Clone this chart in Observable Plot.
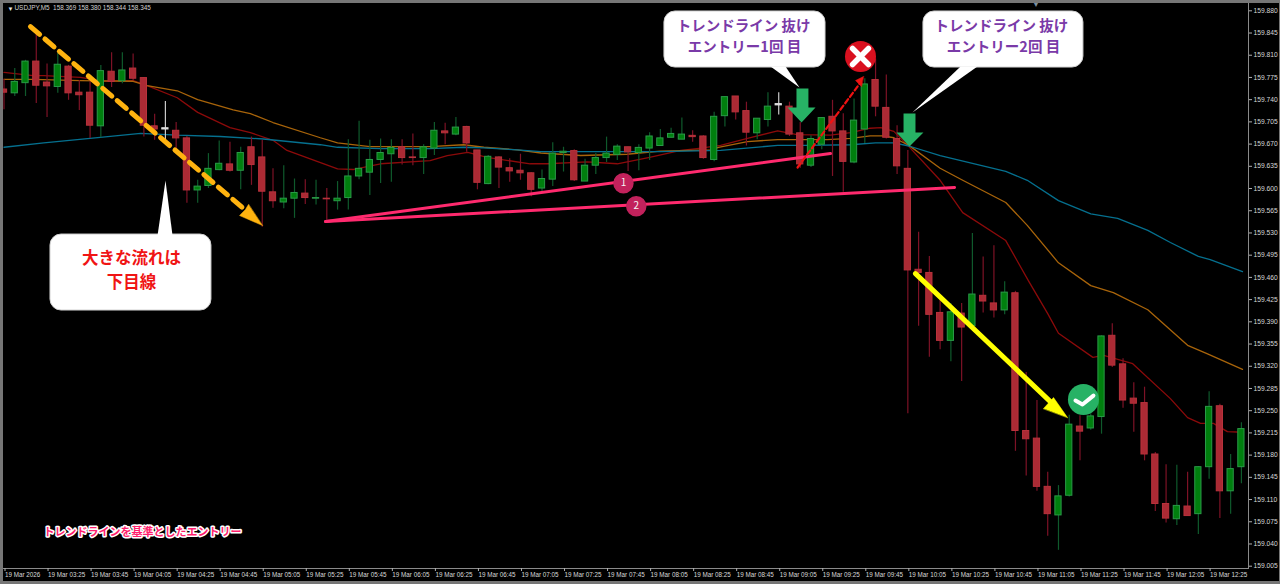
<!DOCTYPE html>
<html lang="ja">
<head>
<meta charset="utf-8">
<style>
html,body{margin:0;padding:0;background:#000;overflow:hidden}
svg{display:block}
</style>
<script src="https://cdn.jsdelivr.net/npm/d3@7"></script>
<script src="https://cdn.jsdelivr.net/npm/@observablehq/plot@0.6"></script>
</head>
<body>
<div id="chart"></div>
<script>
// r = bearish, g = bullish, w = doji (one value per M5 bar, 03:05 to 12:40)
const barKinds = "rggrrgrrrgrgrrrwrrgggrgrrrggrgrggggggrrggrgrrgrrrrgggrggggrgggggrrggrrggwrrggrrggrrrrrrrgrgrrgrrrrggrggrrrrrrgrggrgg";
const highs = [159.772,159.789,159.802,159.844,159.796,159.813,159.794,159.770,159.778,159.794,159.814,159.814,159.812,159.775,159.717,159.737,159.704,159.682,159.613,159.655,159.675,159.673,159.665,159.681,159.676,159.631,159.636,159.615,159.614,159.613,159.600,159.611,159.677,159.706,159.676,159.678,159.677,159.677,159.686,159.669,159.704,159.703,159.712,159.698,159.660,159.652,159.650,159.647,159.654,159.625,159.629,159.672,159.665,159.661,159.646,159.655,159.681,159.669,159.665,159.669,159.688,159.693,159.695,159.711,159.691,159.683,159.720,159.745,159.745,159.736,159.710,159.751,159.751,159.736,159.704,159.683,159.712,159.739,159.718,159.741,159.773,159.804,159.779,159.699,159.660,159.531,159.493,159.424,159.419,159.419,159.529,159.492,159.510,159.453,159.438,159.310,159.266,159.153,159.132,159.243,159.242,159.245,159.368,159.387,159.332,159.294,159.287,159.184,159.165,159.164,159.153,159.162,159.280,159.260,159.181,159.231];
const bodyTops = [159.756,159.768,159.800,159.800,159.767,159.795,159.792,159.751,159.751,159.785,159.784,159.786,159.789,159.774,159.698,159.695,159.691,159.679,159.603,159.631,159.639,159.638,159.656,159.665,159.649,159.594,159.584,159.593,159.592,159.585,159.584,159.584,159.619,159.631,159.645,159.656,159.664,159.665,159.649,159.665,159.691,159.690,159.696,159.697,159.660,159.650,159.649,159.632,159.628,159.624,159.615,159.655,159.658,159.659,159.636,159.648,159.655,159.666,159.665,159.664,159.682,159.679,159.686,159.685,159.683,159.682,159.713,159.744,159.745,159.722,159.710,159.729,159.733,159.729,159.687,159.678,159.711,159.713,159.690,159.707,159.764,159.771,159.727,159.678,159.631,159.472,159.467,159.404,159.405,159.403,159.433,159.431,159.419,159.436,159.435,159.218,159.206,159.130,159.115,159.228,159.225,159.241,159.367,159.368,159.323,159.269,159.262,159.181,159.103,159.100,159.099,159.161,159.256,159.257,159.158,159.221];
const bodyBottoms = [159.751,159.750,159.766,159.762,159.761,159.760,159.750,159.747,159.699,159.698,159.768,159.769,159.773,159.699,159.693,159.693,159.679,159.597,159.597,159.604,159.629,159.628,159.628,159.637,159.595,159.580,159.578,159.584,159.585,159.584,159.583,159.580,159.585,159.619,159.625,159.645,159.654,159.648,159.648,159.648,159.663,159.687,159.685,159.671,159.609,159.607,159.633,159.627,159.624,159.598,159.600,159.614,159.656,159.613,159.611,159.636,159.648,159.653,159.657,159.656,159.663,159.667,159.680,159.677,159.681,159.648,159.645,159.714,159.720,159.688,159.687,159.708,159.731,159.685,159.638,159.636,159.669,159.690,159.642,159.641,159.693,159.729,159.680,159.635,159.471,159.467,159.401,159.360,159.360,159.381,159.383,159.422,159.408,159.408,159.218,159.205,159.130,159.087,159.085,159.116,159.217,159.222,159.240,159.321,159.266,159.261,159.181,159.103,159.080,159.079,159.084,159.087,159.161,159.123,159.123,159.161];
const lows = [159.724,159.745,159.745,159.734,159.712,159.750,159.739,159.723,159.679,159.680,159.759,159.765,159.770,159.681,159.676,159.672,159.663,159.577,159.577,159.600,159.628,159.626,159.598,159.605,159.539,159.569,159.568,159.553,159.575,159.574,159.550,159.566,159.566,159.614,159.589,159.608,159.610,159.637,159.636,159.622,159.652,159.669,159.683,159.657,159.598,159.606,159.600,159.610,159.613,159.587,159.594,159.603,159.626,159.611,159.611,159.622,159.641,159.644,159.627,159.628,159.644,159.667,159.680,159.677,159.673,159.646,159.642,159.697,159.708,159.667,159.677,159.697,159.716,159.682,159.632,159.633,159.661,159.619,159.594,159.639,159.671,159.713,159.678,159.622,159.245,159.383,159.334,159.346,159.327,159.296,159.376,159.404,159.396,159.401,159.186,159.147,159.123,159.052,159.030,159.114,159.171,159.219,159.213,159.318,159.254,159.216,159.171,159.091,159.073,159.069,159.084,159.055,159.142,159.080,159.087,159.135];

const blueBars = [0,3.7,8,12.7,16.1,20.1,24.1,29.4,31,35,39.6,42.7,44.6,47.7,49.9,53.6,61,66.6,71.9,74.7,78.7,81,82.7,84.1,87,93.1,95.1,98,101,103.5,106.3,108.4,111,112.1,115.1];
const blueMA = [159.665,159.672,159.679,159.687,159.684,159.682,159.678,159.669,159.665,159.663,159.663,159.665,159.664,159.661,159.658,159.658,159.658,159.660,159.668,159.668,159.669,159.672,159.672,159.667,159.652,159.627,159.613,159.581,159.560,159.553,159.534,159.515,159.493,159.488,159.469];
const orangeBars = [0,2.7,7.1,12,13.3,16.1,18,21.3,22.9,25,29.4,31,34,39.6,42.7,44.6,47.7,49.9,53.6,57.9,61,65.7,66.4,69.1,71.9,76.5,78.7,80.5,81.7,82.7,84.1,87,89.1,93.1,95.1,98,101,103.1,106.3,110,111.8,115.1];
const orangeMA = [159.772,159.772,159.770,159.769,159.762,159.754,159.740,159.724,159.718,159.704,159.680,159.672,159.666,159.666,159.669,159.665,159.661,159.656,159.652,159.654,159.659,159.661,159.665,159.674,159.677,159.677,159.679,159.683,159.683,159.680,159.668,159.632,159.613,159.578,159.542,159.483,159.447,159.436,159.409,159.353,159.340,159.315];
const redBars = [0,2.7,3.7,7.1,9.3,12,13.3,16.1,18,21,22.9,25,26.3,31,32.5,35,39.6,41.2,43.1,44.9,48.9,50.5,54.2,57,60,62.9,64.4,66.6,69.1,71.9,73.7,76.8,78.7,80.5,81.5,82.7,84.1,87,89.1,93.1,95.2,97,98,101.2,102.2,104.9,108.4,110,111.2,112.4,113.7,115.1];
const redMA = [159.783,159.778,159.778,159.775,159.769,159.770,159.762,159.743,159.720,159.696,159.688,159.676,159.660,159.631,159.630,159.639,159.644,159.652,159.657,159.649,159.639,159.639,159.642,159.639,159.649,159.660,159.663,159.668,159.679,159.691,159.685,159.684,159.688,159.695,159.696,159.690,159.666,159.613,159.562,159.518,159.455,159.403,159.372,159.334,159.337,159.324,159.269,159.239,159.230,159.230,159.217,159.216];

const priceTicks = [159.005,159.040,159.075,159.110,159.145,159.180,159.215,159.250,159.285,159.320,159.355,159.390,159.425,159.460,159.495,159.530,159.565,159.600,159.635,159.670,159.705,159.740,159.775,159.810,159.845,159.880];
const timeLabels = ["19 Mar 2026","19 Mar 03:25","19 Mar 03:45","19 Mar 04:05","19 Mar 04:25","19 Mar 04:45","19 Mar 05:05","19 Mar 05:25","19 Mar 05:45","19 Mar 06:05","19 Mar 06:25","19 Mar 06:45","19 Mar 07:05","19 Mar 07:25","19 Mar 07:45","19 Mar 08:05","19 Mar 08:25","19 Mar 08:45","19 Mar 09:05","19 Mar 09:25","19 Mar 09:45","19 Mar 10:05","19 Mar 10:25","19 Mar 10:45","19 Mar 11:05","19 Mar 11:25","19 Mar 11:45","19 Mar 12:05","19 Mar 12:25"];
const timeTicks = timeLabels.map((_, k) => k * 4);

// Annotation geometry, in bar number and price
const downTrendLine = [[2.46,159.855],[22.26,159.5685]];
const downTrendHead = [[24.02,159.5417],[21.89,159.5574],[22.44,159.5669],[22.72,159.5748]];
const trendLine1 = [[29.88,159.548],[76.81,159.6551]];
const trendLine2 = [[29.88,159.548],[88.34,159.6016]];
const failLine = [[73.75,159.6331],[79.6,159.767]];
const failHead = [[79.88,159.7765],[79.14,159.7702],[79.69,159.7607]];
const winLine = [[84.71,159.466],[97.44,159.2612]];
const winHead = [[98.84,159.2392],[97.54,159.2707],[96.61,159.2534]];
const entryArrow1 = [[73.65,159.7575],[74.76,159.7575],[74.76,159.7276],[75.42,159.7276],[74.12,159.704],[72.82,159.7276],[73.65,159.7276]];
const entryArrow2 = [[83.6,159.7182],[84.71,159.7182],[84.71,159.6882],[85.45,159.6882],[84.15,159.6662],[82.94,159.6882],[83.6,159.6882]];
const tail1 = [[14.27,159.5259],[15.66,159.5259],[15.01,159.6126]];
const tail2 = [[71.24,159.7922],[72.63,159.7922],[73.93,159.7591]];
const tail3 = [[88.9,159.7922],[90.47,159.7922],[84.43,159.7197]];
const calloutBoxes = [
  {x1:4.32,x2:19.28,y1:159.5275,y2:159.4078},
  {x1:61.38,x2:76.35,y1:159.8789,y2:159.7906},
  {x1:85.45,x2:100.32,y1:159.8789,y2:159.7906}
];
const trendNote = [{x:11.85,y:159.4897,t:"大きな流れは"},{x:11.85,y:159.4519,t:"下目線"}];
const entryNotes = [
  {x:68.73,y:159.8552,t:"トレンドライン 抜け"},{x:68.82,y:159.8221,t:"エントリー1回 目"},
  {x:92.7,y:159.8552,t:"トレンドライン 抜け"},{x:92.89,y:159.8221,t:"エントリー2回 目"}
];
const badges = [{x:57.57,y:159.6083,t:"1"},{x:58.76,y:159.5721,t:"2"}];
const crossCentre = [{x:79.6,y:159.808}];
const crossStrokes = [[[78.86,159.8206],[80.34,159.7954]],[[80.34,159.8206],[78.86,159.7954]]];
const checkCentre = [{x:100.32,y:159.2675}];
const checkStroke = [[99.58,159.266],[100.23,159.2597],[101.25,159.2738]];
const caption = [{x:3.67,y:159.058,t:"トレンドラインを基準としたエントリー"}];

const bars = highs.map((h, i) => ({
  i, high: h, low: lows[i], top: bodyTops[i], bottom: bodyBottoms[i], kind: barKinds[i],
  open: barKinds[i] === "g" ? bodyBottoms[i] : bodyTops[i],
  close: barKinds[i] === "g" ? bodyTops[i] : bodyBottoms[i]
}));
const wickColor = {r:"#7d1226", g:"#0f5a2c", w:"#c8c8c8"};
const bodyColor = {r:"#ab2a34", g:"#007f0e", w:"#e0e0e0"};
const edgeColor = {r:"#b8323c", g:"#2a9a48", w:"#e0e0e0"};
const maLine = (xs, ys, stroke) => Plot.line(ys.map((y, k) => [xs[k], y]), {stroke, strokeWidth: 1.3, clip: true});
const cjk = '"Noto Sans CJK JP","Noto Sans",sans-serif';
const uiFont = '"Liberation Sans",Arial,sans-serif';

const chart = Plot.plot({
  width: 1280, height: 584,
  marginLeft: 3, marginRight: 32, marginTop: 3, marginBottom: 16,
  style: {background: "#000", color: "#d8d8d8", fontFamily: uiFont, boxShadow: "inset 3px 3px 0 #767676, inset 0 -3px 0 #767676, inset -1px 0 0 #767676"},
  x: {type: "linear", domain: [0, 115], range: [3.5, 1240.9], axis: null},
  y: {type: "linear", domain: [159.005, 159.88], range: [565.7, 10.3], axis: null},
  marks: [
    maLine(redBars, redMA, "#8c0a0a"),
    maLine(orangeBars, orangeMA, "#a8640a"),
    maLine(blueBars, blueMA, "#05708f"),
    Plot.ruleX(bars, {x: "i", y1: "low", y2: "high", stroke: d => wickColor[d.kind], strokeWidth: 1.2, clip: true}),
    Plot.rect(bars, {x1: d => d.i - 0.29, x2: d => d.i + 0.29, y1: "bottom", y2: "top", fill: d => bodyColor[d.kind], stroke: d => edgeColor[d.kind], strokeWidth: 1, clip: true}),

    Plot.frame({anchor: "right", stroke: "#8a8a8a"}),
    Plot.frame({anchor: "bottom", stroke: "#8a8a8a"}),
    Plot.axisY({anchor: "right", ticks: priceTicks, tickFormat: d3.format(".3f"), tickSize: 3, tickPadding: 2, label: null, fontSize: 6.7, stroke: "#b0b0b0"}),
    Plot.axisX({anchor: "bottom", ticks: timeTicks, tickFormat: (d) => timeLabels[d / 4], tickSize: 3, tickPadding: 1, label: null, fontSize: 6.3, textAnchor: "start", dx: 1, stroke: "#b0b0b0"}),
    Plot.text(["▼"], {frameAnchor: "top-left", dx: 4, dy: 3, fontSize: 6, fill: "#e8e8e8", textAnchor: "start"}),
    Plot.text(["USDJPY,M5  158.369 158.380 158.344 158.345"], {frameAnchor: "top-left", dx: 11, dy: 2, fontSize: 6.4, fill: "#d0d0d0", textAnchor: "start", lineAnchor: "top"}),
    Plot.text(["▼"], {frameAnchor: "top", dx: 410, dy: -1, fontSize: 7, fill: "#7a8fa0"}),

    Plot.line(trendLine1, {stroke: "#ff2a6e", strokeWidth: 3}),
    Plot.line(trendLine2, {stroke: "#ff2a6e", strokeWidth: 3}),
    Plot.dot(badges, {x: "x", y: "y", r: 9.5, fill: "#c2225c", stroke: "#c2225c"}),
    Plot.text(badges, {x: "x", y: "y", text: "t", fill: "#f4f4f4", fontSize: 10, fontWeight: 400, fontFamily: cjk}),

    Plot.line(downTrendLine, {stroke: "#ffb30f", strokeWidth: 5, strokeDasharray: "12,7"}),
    Plot.line(downTrendHead, {fill: "#ffb30f", stroke: "#ffb30f", strokeWidth: 0.5, curve: "linear-closed"}),
    Plot.line(failLine, {stroke: "#f01212", strokeWidth: 2.2, strokeDasharray: "5,3"}),
    Plot.line(failHead, {fill: "#f01212", stroke: "#f01212", strokeWidth: 0.5, curve: "linear-closed"}),
    Plot.line(winLine, {stroke: "#ffff00", strokeWidth: 5}),
    Plot.line(winHead, {fill: "#ffff00", stroke: "#ffff00", strokeWidth: 0.5, curve: "linear-closed"}),

    Plot.rect(calloutBoxes, {x1: "x1", x2: "x2", y1: "y1", y2: "y2", fill: "#fff", stroke: "#cfcfcf", strokeWidth: 1, rx: 11}),
    Plot.line(tail1, {fill: "#fff", curve: "linear-closed"}),
    Plot.line(tail2, {fill: "#fff", curve: "linear-closed"}),
    Plot.line(tail3, {fill: "#fff", curve: "linear-closed"}),
    Plot.text(trendNote, {x: "x", y: "y", text: "t", fill: "#f01414", fontSize: 16.5, fontWeight: 700, fontFamily: cjk}),
    Plot.text(entryNotes, {x: "x", y: "y", text: "t", fill: "#7a3aa8", fontSize: 14.5, fontWeight: 700, fontFamily: cjk}),

    Plot.line(entryArrow1, {fill: "#27b265", curve: "linear-closed"}),
    Plot.line(entryArrow2, {fill: "#27b265", curve: "linear-closed"}),

    Plot.dot(crossCentre, {x: "x", y: "y", r: 15.5, fill: "#d9101f"}),
    ...crossStrokes.map(s => Plot.line(s, {stroke: "#fff", strokeWidth: 5.5, strokeLinecap: "round"})),
    Plot.dot(checkCentre, {x: "x", y: "y", r: 15.5, fill: "#27b265"}),
    Plot.line(checkStroke, {stroke: "#fff", strokeWidth: 4, strokeLinecap: "round", strokeLinejoin: "round"}),

    Plot.text(caption, {x: "x", y: "y", text: "t", textAnchor: "start", fill: "#ff1e6e", stroke: "#fff", strokeWidth: 3, paintOrder: "stroke", fontSize: 11, fontWeight: 700, fontFamily: cjk})
  ]
});
document.getElementById("chart").appendChild(chart);
</script>
</body>
</html>
